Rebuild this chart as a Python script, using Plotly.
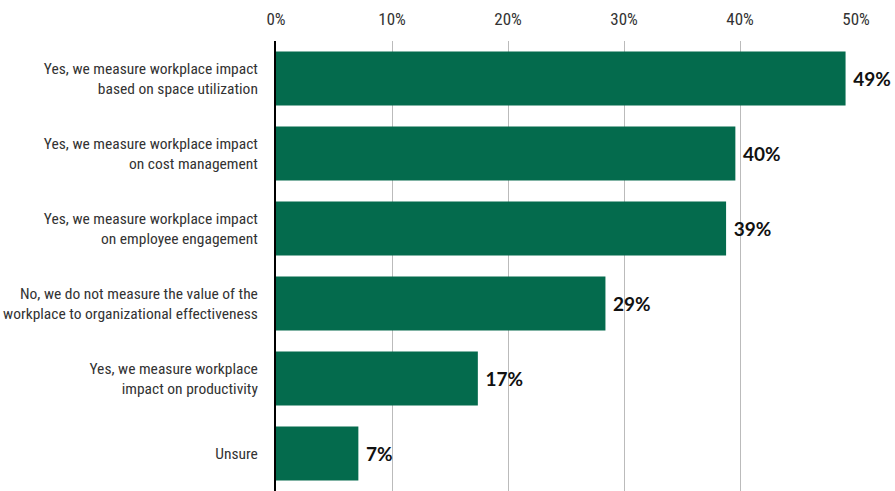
import plotly.graph_objects as go

categories = [
    "Yes, we measure workplace impact<br>based on space utilization",
    "Yes, we measure workplace impact<br>on cost management",
    "Yes, we measure workplace impact<br>on employee engagement",
    "No, we do not measure the value of the<br>workplace to organizational effectiveness",
    "Yes, we measure workplace<br>impact on productivity",
    "Unsure",
]
values = [49.1, 39.6, 38.8, 28.4, 17.4, 7.1]
labels = ["49%", "40%", "39%", "29%", "17%", "7%"]
tick_vals = [0, 10, 20, 30, 40, 50]
tick_text = ["0%", "10%", "20%", "30%", "40%", "50%"]

BAR_COLOR = "#046B4D"
NARROW = "Roboto Condensed, Liberation Sans Narrow, sans-serif"

fig = go.Figure(go.Bar(
    x=values,
    y=categories,
    orientation="h",
    marker=dict(color=BAR_COLOR, line=dict(width=0)),
    text=[" " + t for t in labels],
    textposition="outside",
    cliponaxis=False,
    textfont=dict(family="Lato, Open Sans, sans-serif", size=19, color="#111111", weight="bold"),
    hoverinfo="skip",
))

fig.update_xaxes(
    side="top",
    range=[0, 50],
    tickvals=tick_vals,
    ticktext=tick_text,
    showgrid=True,
    gridcolor="#BBBBBB",
    gridwidth=1,
    zeroline=False,
    showline=False,
    ticks="",
    ticklabelstandoff=12,
    automargin=False,
    tickfont=dict(family=NARROW, size=17, color="#333333", weight="normal"),
)
fig.update_yaxes(
    autorange="reversed",
    showline=True,
    linecolor="#000000",
    linewidth=2,
    ticks="",
    ticklabelstandoff=13,
    automargin=False,
    tickfont=dict(family=NARROW, size=15.5, color="#333333", weight="normal"),
)
fig.update_layout(
    width=895,
    height=491,
    margin=dict(l=276, r=39, t=41, b=0),
    plot_bgcolor="white",
    paper_bgcolor="white",
    bargap=0.28,
    showlegend=False,
)

# page body has an 8px default margin; drop it so the figure sits at 0,0
fig.write_html(
    "out.html",
    config={"displayModeBar": False},
    post_script="document.body.style.margin='0';",
)
